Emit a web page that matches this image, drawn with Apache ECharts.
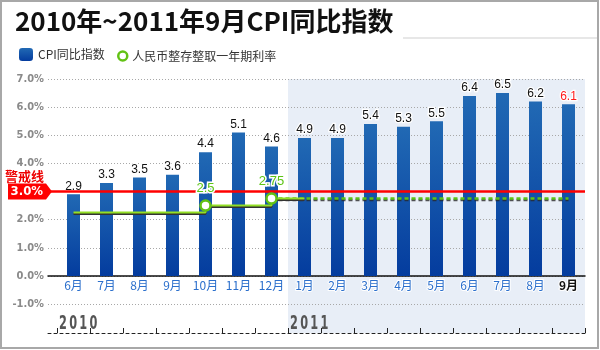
<!DOCTYPE html>
<html><head><meta charset="utf-8">
<script src="https://cdn.jsdelivr.net/npm/echarts@6/dist/echarts.min.js"></script>
<style>html,body{margin:0;padding:0;background:#fff}#c{width:600px;height:350px}</style>
</head><body><div id="c"></div>
<script>
const titleText = '2010年~2011年9月CPI同比指数';
const cpiName = 'CPI同比指数';
const rateName = '人民币整存整取一年期利率';
const months = ['6月','7月','8月','9月','10月','11月','12月','1月','2月','3月','4月','5月','6月','7月','8月','9月'];
const cpi = [2.9,3.3,3.5,3.6,4.4,5.1,4.6,4.9,4.9,5.4,5.3,5.5,6.4,6.5,6.2,6.1];
const rate = [2.25,2.25,2.25,2.25,2.5,2.5,2.75,2.75,2.75,2.75,2.75,2.75,2.75,2.75,2.75,2.75];
const warnLevel = 3.0;
const warnName = '警戒线';
const yearLabels = ['2010','2011'];
const yearStart = [0,7];
const yMin = -1, yMax = 7, yStep = 1;

const el = document.getElementById('c');
const chart = echarts.init(el, null, {renderer:'canvas'});
const last = cpi.length - 1;
const GREEN = '#62c214';
const bottomOffset = 29;
const gridTop = 79, gridBottom = 46;
const gridH = el.clientHeight - gridTop - gridBottom;
const zeroOffset = -(0 - yMin) / (yMax - yMin) * gridH;
const narrow = '"DejaVu Sans Condensed",sans-serif';
const cjk = '"Noto Sans CJK SC",sans-serif';

let lastChange = 0;
const changes = [];
rate.forEach((v,i)=>{ if(i>0 && v!==rate[i-1]){ changes.push(i); lastChange = i; } });

const solidData = rate.map((v,i)=>{
  if (i > lastChange) return null;
  if (changes.indexOf(i) >= 0) return {value:v, symbol:'circle', symbolSize:10,
    label:{show:true, position:'top', distance:4, formatter:String(v), color:'#5cc414', fontSize:13,
      fontFamily:'"Liberation Sans",Arial,sans-serif', textBorderColor:'#fff', textBorderWidth:3}};
  return {value:v, symbol:'none'};
});
const dashData = rate.map((v,i)=> i >= lastChange ? v : null);

const barColor = new echarts.graphic.LinearGradient(0,0,0,1,[{offset:0,color:'#2169b4'},{offset:1,color:'#043c9e'}]);

const option = {
  animation:false,
  title:{text:titleText, left:10, top:3, textStyle:{fontSize:26, fontWeight:'bold', color:'#111', fontFamily:cjk}},
  legend:[
    {data:[cpiName], left:14, top:43, itemWidth:14, itemHeight:13, itemGap:10,
     textStyle:{fontSize:12, color:'#333', fontFamily:cjk}},
    {data:[{name:rateName, icon:'circle', itemStyle:{color:'#fff', borderColor:GREEN, borderWidth:2.5}}],
     left:112, top:45, itemWidth:9, itemHeight:9, textStyle:{fontSize:12, color:'#333', fontFamily:cjk}}
  ],
  grid:[
    {left:48, right:15, top:gridTop, bottom:gridBottom},
    {left:57, right:15, top:gridTop, bottom:gridBottom}
  ],
  xAxis:[
    {type:'value', gridIndex:0, min:0, max:1, position:'bottom',
     axisLine:{show:true, onZero:true, lineStyle:{color:'#111', width:1.5}},
     axisTick:{show:false}, axisLabel:{show:false}, splitLine:{show:false}},
    {type:'value', gridIndex:0, min:0, max:1, position:'bottom', offset:bottomOffset,
     axisLine:{show:true, onZero:false, lineStyle:{color:'#222', width:1, type:[3,3]}},
     axisTick:{show:false}, axisLabel:{show:false}, splitLine:{show:false}},
    {type:'category', gridIndex:1, data:months, position:'bottom', offset:zeroOffset,
     axisLine:{show:false, onZero:false}, axisTick:{show:false},
     axisLabel:{interval:0, margin:4, color:'#2b6fcc', fontSize:12, fontFamily:cjk, textBorderColor:'#fff', textBorderWidth:2,
       formatter:(v,i)=> i===last ? '{cur|'+v+'}' : v,
       rich:{cur:{color:'#111', fontWeight:'bold', fontSize:12, fontFamily:cjk, textBorderColor:'#fff', textBorderWidth:2}}}},
    {type:'category', gridIndex:1, data:months, position:'bottom', offset:bottomOffset,
     axisLine:{show:false, onZero:false},
     axisTick:{show:true, inside:true, interval:0, length:5, lineStyle:{color:'#222'}}, axisLabel:{show:false}}
  ],
  yAxis:[
    {type:'value', gridIndex:0, min:yMin, max:yMax, interval:yStep,
     axisLine:{show:false}, axisTick:{show:false},
     axisLabel:{formatter:v=>v.toFixed(1)+'%', color:'#8a8a8a', fontWeight:'bold', fontSize:11, fontFamily:narrow, margin:4},
     splitLine:{lineStyle:{color:'#a8a8a8', type:[1,2]}}},
    {type:'value', gridIndex:1, min:yMin, max:yMax, interval:yStep, show:false}
  ],
  series:[
    {type:'bar', name:cpiName, xAxisIndex:2, yAxisIndex:1, barWidth:13, z:3,
     itemStyle:{color:barColor},
     data:cpi.map((v,i)=>({value:v, label:{color: i===last ? '#ff1a1a' : '#111'}})),
     label:{show:true, position:'top', distance:2, fontSize:12, fontFamily:'"Liberation Sans",Arial,sans-serif',
       textBorderColor:'#fff', textBorderWidth:2.5}},
    {type:'line', name:rateName, xAxisIndex:2, yAxisIndex:1, step:'end', z:6,
     data:dashData, showSymbol:false, symbol:'none',
     lineStyle:{color:'#5cc414', width:2.5, type:[4,3], shadowColor:'rgba(40,40,40,0.8)', shadowOffsetY:1.5, shadowBlur:0}},
    {type:'line', name:rateName, xAxisIndex:2, yAxisIndex:1, step:'end', z:7,
     data:solidData, showSymbol:true,
     itemStyle:{color:'#fff', borderColor:GREEN, borderWidth:2.5},
     lineStyle:{color:'#93e024', width:2, shadowColor:'#333', shadowOffsetY:1.5, shadowBlur:0}},
    {type:'line', name:'warn', xAxisIndex:0, yAxisIndex:0, data:[], z:4,
     markLine:{silent:true, animation:false,
       symbol:['path://M0,0L38,0L44,8L38,16L0,16Z','none'], symbolSize:[44,16], symbolRotate:0,
       symbolOffset:[[-18,0],[0,0]],
       lineStyle:{color:'#ff0000', width:2.5, type:'solid'},
       label:{show:true, position:'start', distance:5, padding:[0,0,15,0],
         formatter:'{a|'+warnName+'}\n{b|'+warnLevel.toFixed(1)+'%}',
         rich:{a:{color:'#ee0000', fontSize:13, fontWeight:'bold', fontFamily:cjk, lineHeight:15, align:'right', padding:[0,-1,0,0]},
               b:{color:'#fff', fontSize:13, fontWeight:'bold', fontFamily:narrow, lineHeight:15, align:'right'}}},
       data:[{yAxis:warnLevel}]}}
  ]
};
chart.setOption(option);

const px = i => chart.convertToPixel({xAxisIndex:2}, i);
const py = v => chart.convertToPixel({yAxisIndex:1}, v);
const bw = px(1) - px(0);
const topY = py(yMax);
const bottomY = py(yMin) + bottomOffset;
const graphics = [];
const bgX = px(yearStart[1]) - bw/2;
graphics.push({type:'rect', z:-100, silent:true,
  shape:{x:bgX, y:topY, width:px(last)+bw/2-bgX, height:bottomY-topY},
  style:{fill:'#e8eef7'}});
yearLabels.forEach((t,k)=>{
  graphics.push({type:'text', z:5, silent:true, x:px(yearStart[k])-bw/2+2, y:bottomY+1, scaleX:0.63,
    style:{text:t.split('').join('\u2009'), fill:'#555', font:'bold 20px '+narrow, textVerticalAlign:'bottom'}});
});
graphics.push({type:'line', silent:true, shape:{x1:403,y1:38,x2:598,y2:38}, style:{stroke:'#cfcfcf', lineWidth:1}});
graphics.push({type:'rect', silent:true, z:100, shape:{x:1,y:1,width:597,height:347}, style:{fill:'none', stroke:'#a8a8a8', lineWidth:2}});
chart.setOption({graphic:graphics});
</script></body></html>
